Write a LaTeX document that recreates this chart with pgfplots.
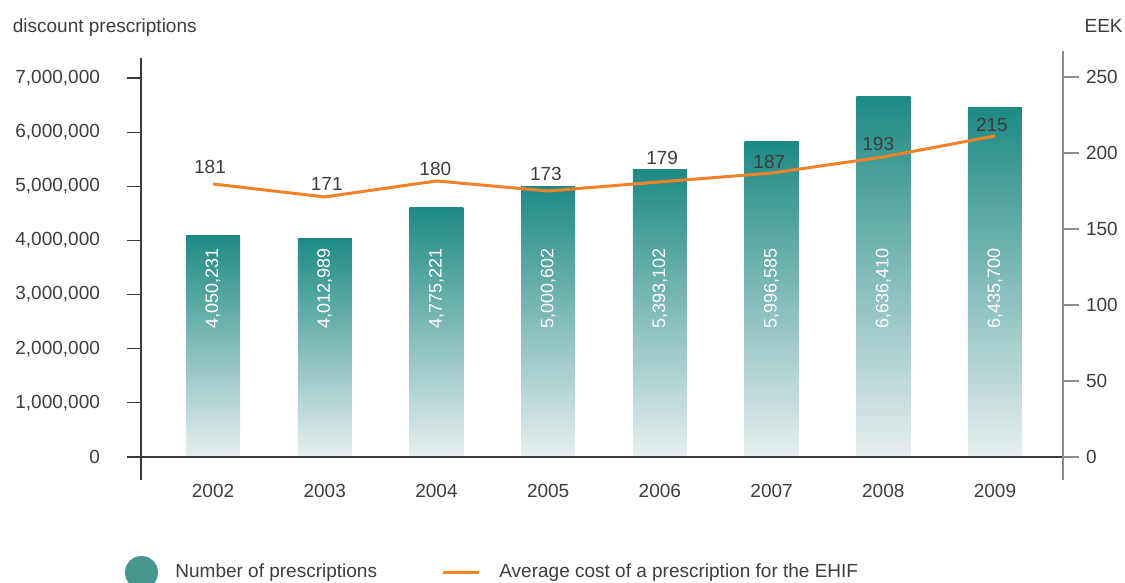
\documentclass[border=0pt]{standalone}
\usepackage{fontspec}
\setmainfont{Liberation Sans}
\usepackage{pgfplots}
\usepackage{pgfplotstable}
\pgfplotsset{compat=1.18}
\definecolor{tealtop}{HTML}{1D8A84}
\definecolor{tealbot}{HTML}{E8EFEF}
\definecolor{legteal}{HTML}{45968F}
\definecolor{orangeline}{HTML}{F0832A}
\definecolor{txt}{HTML}{3D3D3D}
\definecolor{axdark}{HTML}{3A3A3A}
\definecolor{axgray}{HTML}{8C8C8C}

\pgfplotstableread{
x h ly lab
0 4100000 3112000 4,050,231
1 4039000 3112000 4,012,989
2 4617000 3112000 4,775,221
3 5005000 3112000 5,000,602
4 5319000 3112000 5,393,102
5 5836000 3112000 5,996,585
6 6655000 3112000 6,636,410
7 6446000 3112000 6,435,700
}\bars

\pgfplotstableread{
x c lx ly lab
0 179.6 -0.027 190.8 181
1 171.1 1.018 179.6 171
2 181.6 1.990 189.5 180
3 175.0 2.980 186.2 173
4 181.0 4.020 196.7 179
5 186.8 4.980 194.1 187
6 197.4 5.955 205.9 193
7 211.2 6.973 218.4 215
}\cost

\begin{document}
\begin{tikzpicture}
\useasboundingbox (0,0) rectangle (562.5pt,-291.5pt);
\begin{axis}[
  at={(70.5pt,-240pt)}, anchor=south west,
  scale only axis, width=461pt, height=211pt,
  xmin=-0.645, xmax=7.609,
  ymin=-424802, ymax=7369393,
  axis x line=bottom, axis y line=left,
  x axis line style={draw=none},
  y axis line style={-, draw=axdark, line width=0.6pt},
  xtick={0,1,2,3,4,5,6,7},
  xticklabels={2002,2003,2004,2005,2006,2007,2008,2009},
  xtick style={draw=none},
  xticklabel style={yshift=8.5pt},
  ytick={0,1000000,2000000,3000000,4000000,5000000,6000000,7000000},
  scaled y ticks=false,
  yticklabel style={/pgf/number format/fixed, /pgf/number format/1000 sep={,}, xshift=-10pt},
  tick align=outside, major tick length=7pt,
  ytick style={draw=axdark, line width=0.6pt},
  tick label style={font=\fontsize{9.5}{11}\selectfont, text=txt},
  /pgf/number format/assume math mode=true,
  clip=false,
]
\pgfplotsinvokeforeach{0,...,7}{
  \addplot[ybar, bar width=27pt, bar shift=0pt, draw=none, top color=tealtop, bottom color=tealbot,
    restrict expr to domain={\coordindex}{#1:#1}] table[x=x,y=h]{\bars};
}
\addplot[draw=none, mark=none, nodes near coords, point meta=explicit symbolic,
  nodes near coords style={rotate=90, anchor=center, text=white, font=\fontsize{9}{10}\selectfont, inner sep=0pt}]
  table[x=x,y=ly,meta=lab]{\bars};
\draw[axdark, line width=0.6pt] ([xshift=-7pt]axis cs:-0.645,0) -- ([xshift=8pt]axis cs:7.609,0);
\end{axis}
\begin{axis}[
  at={(70.5pt,-240pt)}, anchor=south west,
  scale only axis, width=461pt, height=214.5pt,
  xmin=-0.645, xmax=7.609,
  ymin=-15.13, ymax=267.1,
  axis x line=none, axis y line=right,
  y axis line style={-, draw=axgray, line width=0.8pt},
  ytick={0,50,100,150,200,250},
  tick align=outside, major tick length=8pt,
  ytick style={draw=axgray, line width=0.8pt},
  tick label style={font=\fontsize{9.5}{11}\selectfont, text=txt},
  /pgf/number format/assume math mode=true,
  clip=false,
]
\addplot[orangeline, line width=1.5pt, mark=none] table[x=x,y=c]{\cost};
\addplot[draw=none, mark=none, nodes near coords, point meta=explicit symbolic,
  nodes near coords style={anchor=center, text=txt, font=\fontsize{9.5}{11}\selectfont}]
  table[x=lx,y=ly,meta=lab]{\cost};
\end{axis}
\node[anchor=base west, inner sep=0pt, text=txt, font=\fontsize{9.5}{11}\selectfont] at (6.25pt,-16.2pt) {discount prescriptions};
\node[anchor=base east, inner sep=0pt, text=txt, font=\fontsize{9.5}{11}\selectfont] at (561.5pt,-16.2pt) {EEK};
\fill[legteal] (70.75pt,-286.25pt) circle (8.25pt);
\node[anchor=base west, inner sep=0pt, text=txt, font=\fontsize{9.5}{11}\selectfont] at (87.5pt,-288.5pt) {Number of prescriptions};
\draw[orangeline, line width=1.5pt] (221.5pt,-286.35pt) -- (239.5pt,-286.35pt);
\node[anchor=base west, inner sep=0pt, text=txt, font=\fontsize{9.5}{11}\selectfont] at (249.5pt,-288.5pt) {Average cost of a prescription for the EHIF};
\end{tikzpicture}
\end{document}
